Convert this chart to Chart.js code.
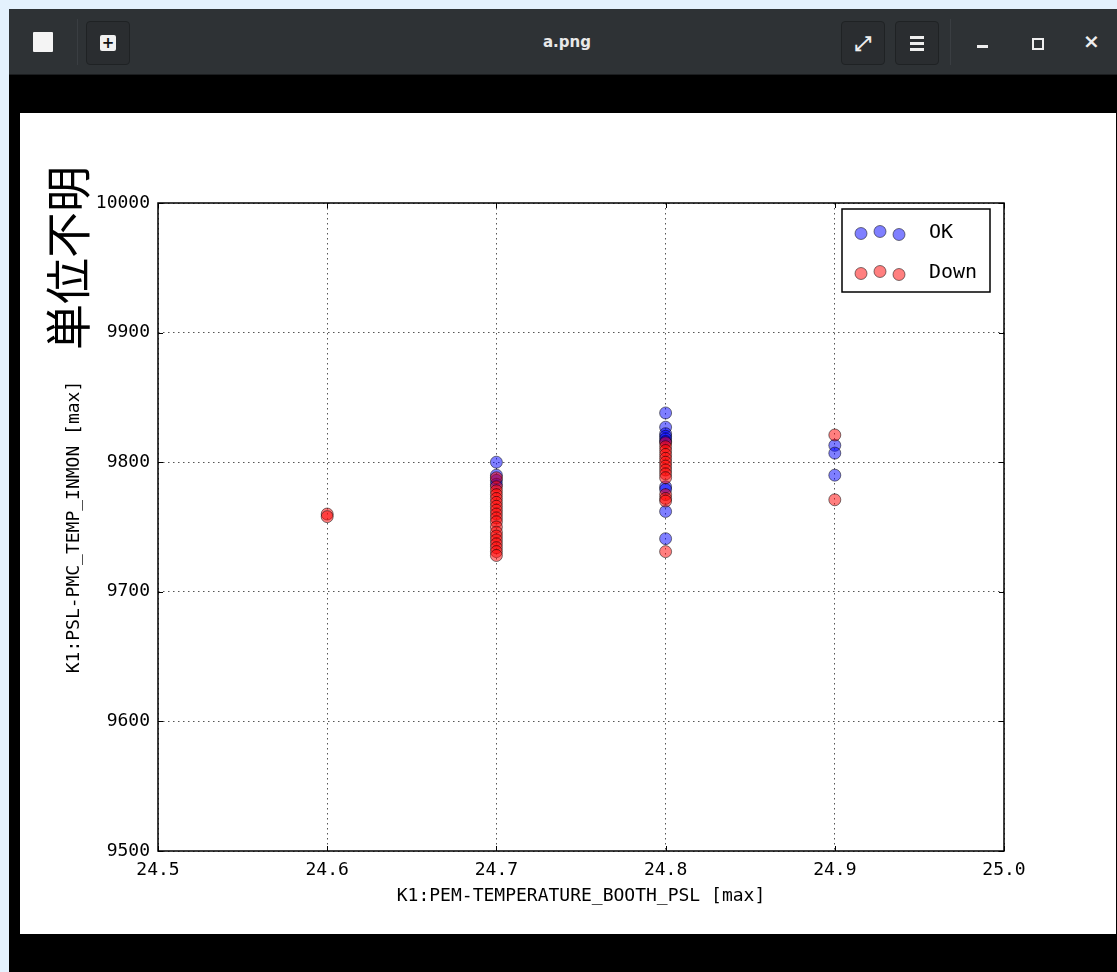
<!DOCTYPE html>
<html>
<head>
<meta charset="utf-8">
<script src="https://cdn.jsdelivr.net/npm/chart.js@4.4.1/dist/chart.umd.min.js"></script>
<style>
  body { margin: 0; width: 1117px; height: 972px; overflow: hidden; background: #e4f1fd; position: relative; font-family: "DejaVu Sans", sans-serif; }
  #win { position: absolute; left: 9px; top: 9px; width: 1120px; height: 980px; background: #000; }
  #titlebar { position: absolute; left: 9px; top: 9px; width: 1120px; height: 65px; background: #2e3235; border-bottom: 1px solid #1b1d1f; }
  .btn { position: absolute; top: 12px; width: 44px; height: 44px; border-radius: 4px; background: #2a2d30; border: 1px solid #1f2224; box-sizing: border-box; }
  .sep { position: absolute; top: 10px; width: 1px; height: 46px; background: #3a3e42; }
  #title { position: absolute; left: 0; width: 1134px; top: 33px; text-align: center; color: #e8e8e8; font: bold 15px "DejaVu Sans", sans-serif; }
  #img { position: absolute; left: 20px; top: 113px; width: 1096px; height: 821px; background: #fff; }
  #unit { position: absolute; left: 65px; top: 258px; transform: translate(-50%, -50%) rotate(-90deg); font: 46px "Noto Sans CJK JP", sans-serif; color: #000; white-space: nowrap; }
</style>
</head>
<body>
<div id="win"></div>
<div id="titlebar">
  <div style="position:absolute;left:24px;top:23px;width:20px;height:20px;background:#f4f4f4;border-radius:1px;"></div>
  <div class="sep" style="left:68px"></div>
  <div class="btn" style="left:77px">
    <div style="position:absolute;left:13px;top:13px;width:16px;height:16px;background:#f0f0f0;border-radius:2px;color:#111;font:bold 15px/16px 'DejaVu Sans';text-align:center;">+</div>
  </div>
  <div class="btn" style="left:832px;color:#eee;font:bold 20px/42px 'DejaVu Sans';text-align:center;">⤢</div>
  <div class="btn" style="left:886px">
    <div style="position:absolute;left:14px;top:14px;width:14px;height:3px;background:#eee"></div>
    <div style="position:absolute;left:14px;top:20px;width:14px;height:3px;background:#eee"></div>
    <div style="position:absolute;left:14px;top:26px;width:14px;height:3px;background:#eee"></div>
  </div>
  <div class="sep" style="left:941px"></div>
  <div style="position:absolute;left:968px;top:36px;width:11px;height:3px;background:#eee"></div>
  <div style="position:absolute;left:1023px;top:29px;width:8px;height:8px;border:2px solid #eee"></div>
  <div style="position:absolute;left:1074px;top:20px;color:#eee;font:bold 20px 'DejaVu Sans';">×</div>
</div>
<div id="title">a.png</div>
<div id="img"><canvas id="c" width="1096" height="821"></canvas></div>
<div id="unit">単位不明</div>

<script>
// data
const okX = [24.7, 24.7, 24.7, 24.7,
  24.8, 24.8, 24.8, 24.8, 24.8, 24.8, 24.8, 24.8, 24.8, 24.8,
  24.9, 24.9, 24.9];
const okY = [9800, 9790, 9786, 9783,
  9838, 9827, 9822, 9820, 9818, 9816, 9781, 9779, 9762, 9741,
  9813, 9807, 9790];

const downX = [24.6, 24.6,
  24.7, 24.7, 24.7, 24.7, 24.7, 24.7, 24.7, 24.7, 24.7, 24.7,
  24.7, 24.7, 24.7, 24.7, 24.7, 24.7, 24.7, 24.7, 24.7,
  24.8, 24.8, 24.8, 24.8, 24.8, 24.8, 24.8, 24.8, 24.8, 24.8, 24.8, 24.8, 24.8, 24.8,
  24.9, 24.9];
const downY = [9760, 9758,
  9788, 9781, 9778, 9775, 9772, 9769, 9766, 9763, 9760, 9757,
  9754, 9750, 9746, 9743, 9740, 9737, 9734, 9731, 9728,
  9815, 9812, 9809, 9806, 9803, 9800, 9797, 9794, 9791, 9788, 9775, 9772, 9770, 9731,
  9821, 9771];

const seriesNames = ['OK', 'Down'];
const xTitle = 'K1:PEM-TEMPERATURE_BOOTH_PSL [max]';
const yTitle = 'K1:PSL-PMC_TEMP_INMON [max]';

const FONT = '"DejaVu Sans Mono", monospace';
const okFill = 'rgba(0,0,255,0.5)';
const downFill = 'rgba(255,0,0,0.5)';
const edge = 'rgba(0,0,0,0.5)';

const toPoints = (xs, ys) => xs.map((x, i) => ({ x: x, y: ys[i] }));

// frame + inward ticks on all four sides (matplotlib classic look)
const framePlugin = {
    id: 'frame',
    afterDraw(chart) {
        const ctx = chart.ctx;
        const a = chart.chartArea;
        const xs = chart.scales.x, ys = chart.scales.y;
        ctx.save();
        ctx.strokeStyle = '#000';
        ctx.lineWidth = 1;
        xs.ticks.forEach(t => {
            const px = Math.round(xs.getPixelForValue(t.value)) + 0.5;
            ctx.beginPath();
            ctx.moveTo(px, a.bottom); ctx.lineTo(px, a.bottom - 5);
            ctx.moveTo(px, a.top); ctx.lineTo(px, a.top + 5);
            ctx.stroke();
        });
        ys.ticks.forEach(t => {
            const py = Math.round(ys.getPixelForValue(t.value)) + 0.5;
            ctx.beginPath();
            ctx.moveTo(a.left, py); ctx.lineTo(a.left + 5, py);
            ctx.moveTo(a.right, py); ctx.lineTo(a.right - 5, py);
            ctx.stroke();
        });
        ctx.lineWidth = 1.5;
        ctx.strokeRect(a.left, a.top, a.right - a.left, a.bottom - a.top);
        ctx.restore();
    }
};

// legend box with three scatter points per entry
const legendPlugin = {
    id: 'scatterLegend',
    afterDraw(chart) {
        const ctx = chart.ctx;
        const a = chart.chartArea;
        const bx = a.right - 162, by = a.top + 6, bw = 148, bh = 83;
        ctx.save();
        ctx.fillStyle = '#fff';
        ctx.fillRect(bx, by, bw, bh);
        ctx.strokeStyle = '#000';
        ctx.lineWidth = 1.5;
        ctx.strokeRect(bx, by, bw, bh);
        const offs = [0.5, -1.5, 1.5];
        chart.data.datasets.forEach((ds, i) => {
            const cy = by + 24 + i * 40;
            offs.forEach((o, k) => {
                ctx.beginPath();
                ctx.arc(bx + 19 + k * 19, cy + o, 6, 0, Math.PI * 2);
                ctx.fillStyle = ds.backgroundColor;
                ctx.fill();
                ctx.strokeStyle = ds.borderColor;
                ctx.lineWidth = 1;
                ctx.stroke();
            });
            ctx.fillStyle = '#000';
            ctx.font = '20px ' + FONT;
            ctx.textBaseline = 'middle';
            ctx.textAlign = 'left';
            ctx.fillText(ds.label, bx + 87, cy);
        });
        ctx.restore();
    }
};

new Chart(document.getElementById('c'), {
    type: 'scatter',
    data: {
        datasets: [
            { label: seriesNames[0], data: toPoints(okX, okY), backgroundColor: okFill, borderColor: edge,
              borderWidth: 1, pointRadius: 6, order: 2 },
            { label: seriesNames[1], data: toPoints(downX, downY), backgroundColor: downFill, borderColor: edge,
              borderWidth: 1, pointRadius: 6, order: 1 }
        ]
    },
    options: {
        responsive: false,
        animation: false,
        layout: { padding: { left: 0, top: 90, right: 112, bottom: 0 } },
        plugins: { legend: { display: false }, tooltip: { enabled: false } },
        scales: {
            x: {
                type: 'linear', min: 24.5, max: 25.0,
                afterFit: s => { s.height = 83; },
                ticks: { stepSize: 0.1, padding: 9, color: '#000', font: { family: FONT, size: 18 },
                         callback: v => v.toFixed(1) },
                grid: { color: '#555', lineWidth: 1, drawTicks: false },
                border: { display: false, dash: [1.5, 3.5] },
                title: { display: true, text: xTitle, color: '#000', font: { family: FONT, size: 18 },
                         padding: { top: 0, bottom: 27 } }
            },
            y: {
                type: 'linear', min: 9500, max: 10000,
                afterFit: s => { s.width = 138; },
                ticks: { stepSize: 100, padding: 8, color: '#000', font: { family: FONT, size: 18 },
                         callback: v => String(v) },
                grid: { color: '#555', lineWidth: 1, drawTicks: false },
                border: { display: false, dash: [1.5, 3.5] },
                title: { display: true, text: yTitle, color: '#000', font: { family: FONT, size: 18 },
                         padding: { top: 44, bottom: 0 } }
            }
        }
    },
    plugins: [framePlugin, legendPlugin]
});
</script>
</body>
</html>
